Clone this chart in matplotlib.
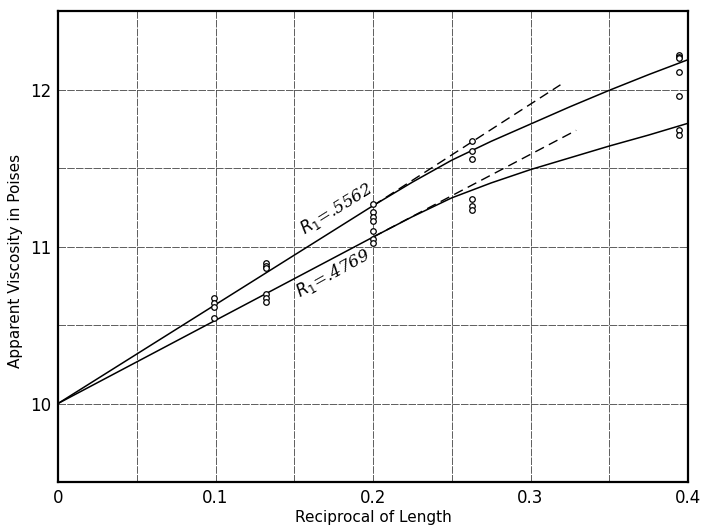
import numpy as np
import matplotlib.pyplot as plt

# smooth curves
curve_x = [0.0, 0.05, 0.1, 0.15, 0.2, 0.225, 0.25, 0.275, 0.3, 0.325, 0.35, 0.375, 0.4]
upper_y = [10.0, 10.315, 10.63, 10.945, 11.26, 11.41, 11.55, 11.67, 11.78,
           11.89, 11.995, 12.095, 12.19]
lower_y = [10.0, 10.265, 10.53, 10.795, 11.06, 11.19, 11.31, 11.405, 11.49,
           11.565, 11.64, 11.71, 11.785]

# dashed straight extensions
dash_x_up = [0.2, 0.319]
dash_y_up = [11.26, 12.03]
dash_x_lo = [0.2, 0.329]
dash_y_lo = [11.06, 11.74]

# observed points
pts_x = [0.099, 0.099, 0.099, 0.099,
         0.132, 0.132, 0.132, 0.132, 0.132, 0.132,
         0.200, 0.200, 0.200, 0.200, 0.200, 0.200, 0.200,
         0.263, 0.263, 0.263, 0.263, 0.263, 0.263,
         0.394, 0.394, 0.394, 0.394, 0.394, 0.394, 0.394]
pts_y = [10.675, 10.64, 10.615, 10.545,
         10.895, 10.875, 10.86, 10.70, 10.675, 10.645,
         11.27, 11.22, 11.19, 11.16, 11.10, 11.05, 11.02,
         11.675, 11.61, 11.56, 11.30, 11.255, 11.235,
         12.22, 12.21, 12.20, 12.11, 11.96, 11.74, 11.71]

xticks = [0, 0.1, 0.2, 0.3, 0.4]
xtick_labels = ['0', '0.1', '0.2', '0.3', '0.4']
yticks = [10, 11, 12]
ytick_labels = ['10', '11', '12']

fig = plt.figure(figsize=(7.04, 5.25), dpi=100)
ax = fig.add_axes([0.0824, 0.0819, 0.8949, 0.8971])

ax.set_xlim(0, 0.4)
ax.set_ylim(9.5, 12.5)

# graph paper grid
for gx in np.arange(0.05, 0.4, 0.05):
    ax.axvline(gx, color='#444444', lw=0.6, ls=(0, (9, 1.5)), zorder=1)
for gy in np.arange(10.0, 12.5, 0.5):
    ax.axhline(gy, color='#444444', lw=0.6, ls=(0, (9, 1.5)), zorder=1)

ax.plot(curve_x, upper_y, color='black', lw=1.1, zorder=3)
ax.plot(curve_x, lower_y, color='black', lw=1.1, zorder=3)
ax.plot(dash_x_up, dash_y_up, color='black', lw=1.0, ls=(0, (7, 4)), zorder=3)
ax.plot(dash_x_lo, dash_y_lo, color='black', lw=1.0, ls=(0, (7, 4)), zorder=3)

ax.plot(pts_x, pts_y, 'o', ms=4, mfc='white', mec='black', mew=0.9, zorder=4)

ax.text(0.177, 11.24, r'$R_1$=.5562', rotation=32, fontsize=12,
        family='DejaVu Serif', style='italic', ha='center', va='center')
ax.text(0.175, 10.83, r'$R_1$=.4769', rotation=29, fontsize=12,
        family='DejaVu Serif', style='italic', ha='center', va='center')

ax.set_xticks(xticks)
ax.set_xticklabels(xtick_labels, fontsize=12)
ax.set_yticks(yticks)
ax.set_yticklabels(ytick_labels, fontsize=12)
ax.tick_params(length=0, pad=5)

for s in ax.spines.values():
    s.set_linewidth(1.6)
    s.set_color('black')

ax.set_xlabel('Reciprocal of Length', fontsize=11, labelpad=2)
ax.set_ylabel('Apparent Viscosity in Poises', fontsize=11)
ax.yaxis.set_label_coords(-0.055, 0.47)

fig.savefig('out.png', dpi=100)
